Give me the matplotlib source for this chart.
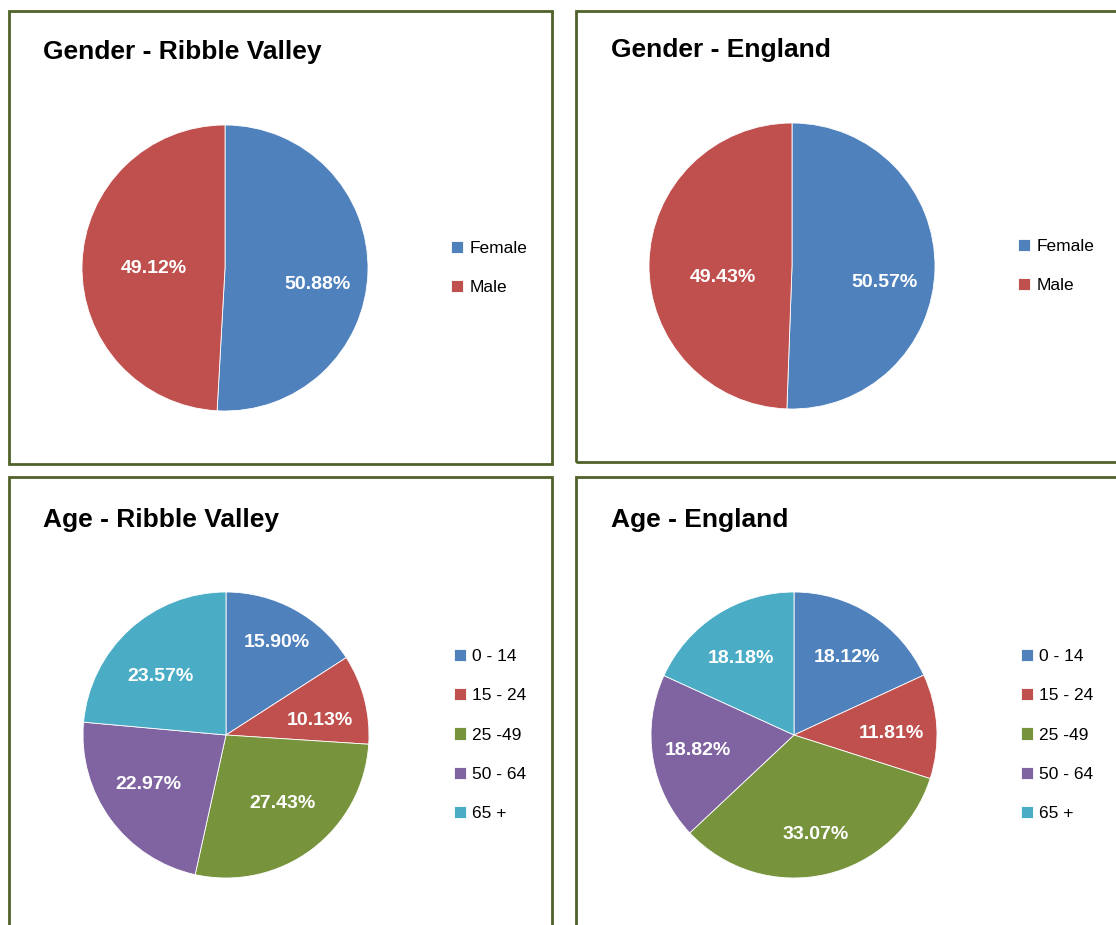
import numpy as np
import matplotlib.pyplot as plt
from matplotlib.patches import Rectangle

plt.rcParams['font.family'] = ['Liberation Sans', 'DejaVu Sans']

# data
gender_labels = ['Female', 'Male']
gender_ribble = [50.88, 49.12]
gender_england = [50.57, 49.43]

age_labels = ['0 - 14', '15 - 24', '25 -49', '50 - 64', '65 +']
age_ribble = [15.90, 10.13, 27.43, 22.97, 23.57]
age_england = [18.12, 11.81, 33.07, 18.82, 18.18]

gender_colors = ['#4F81BD', '#C0504D']
age_colors = ['#4F81BD', '#C0504D', '#77933C', '#8064A2', '#4BACC6']
border = '#4F6228'

W, H = 1116, 925
fig = plt.figure(figsize=(W / 100, H / 100), dpi=100)

def fx(x):
    return x / W

def fy(y):
    return 1 - y / H

# panel frames (pixel boxes: left, top, right, bottom)
panels = [(9, 11, 552, 464), (576, 11, 1125, 462), (9, 477, 552, 935), (576, 477, 1125, 935)]
for l, t, r, b in panels:
    fig.patches.append(Rectangle((fx(l), fy(b)), fx(r - l), (b - t) / H, transform=fig.transFigure,
                                 fill=False, edgecolor=border, linewidth=2, clip_on=False))

def pie_panel(values, labels, colors, title, tx, ty, cx, cy, rad, lx, ly, dists, dys):
    ax = fig.add_axes([fx(cx - rad), fy(cy + rad), 2 * rad / W, 2 * rad / H])
    wedges, texts, autotexts = ax.pie(values, colors=colors, startangle=90, counterclock=False,
                                      autopct='%.2f%%', radius=1,
                                      wedgeprops=dict(edgecolor='white', linewidth=0.6),
                                      textprops=dict(color='white', fontsize=14, fontweight='bold'))
    # excel "best fit" style label placement
    for w, t, d, dy in zip(wedges, autotexts, dists, dys):
        ang = np.deg2rad((w.theta1 + w.theta2) / 2)
        t.set_position((d * np.cos(ang), d * np.sin(ang) + dy))
    ax.set_xlim(-1, 1)
    ax.set_ylim(-1, 1)
    ax.set_aspect('equal')
    ax.axis('off')
    fig.text(fx(tx), fy(ty), title, fontsize=19, fontweight='bold', va='center', ha='left')
    fig.legend(wedges, labels, loc='center left', bbox_to_anchor=(fx(lx), fy(ly)),
               frameon=False, fontsize=12.5, handlelength=0.7, handleheight=0.7,
               handletextpad=0.35, labelspacing=1.4, borderpad=0, borderaxespad=0)
    return ax

pie_panel(gender_ribble, gender_labels, gender_colors, 'Gender - Ribble Valley',
          43, 52, 225, 268, 143, 451, 268, [0.65, 0.5], [-0.10, -0.02])
pie_panel(gender_england, gender_labels, gender_colors, 'Gender - England',
          611, 50, 792, 266, 143, 1018, 266, [0.65, 0.48], [-0.105, -0.09])
pie_panel(age_ribble, age_labels, age_colors, 'Age - Ribble Valley',
          43, 520, 226, 735, 143, 454, 735,
          [0.74, 0.68, 0.66, 0.67, 0.68], [0.0, -0.07, 0.05, 0.05, -0.09])
pie_panel(age_england, age_labels, age_colors, 'Age - England',
          611, 520, 794, 735, 143, 1021, 735,
          [0.68, 0.68, 0.68, 0.68, 0.68], [-0.03, -0.03, -0.03, 0.0, -0.04])

fig.savefig('out.png', dpi=100)
